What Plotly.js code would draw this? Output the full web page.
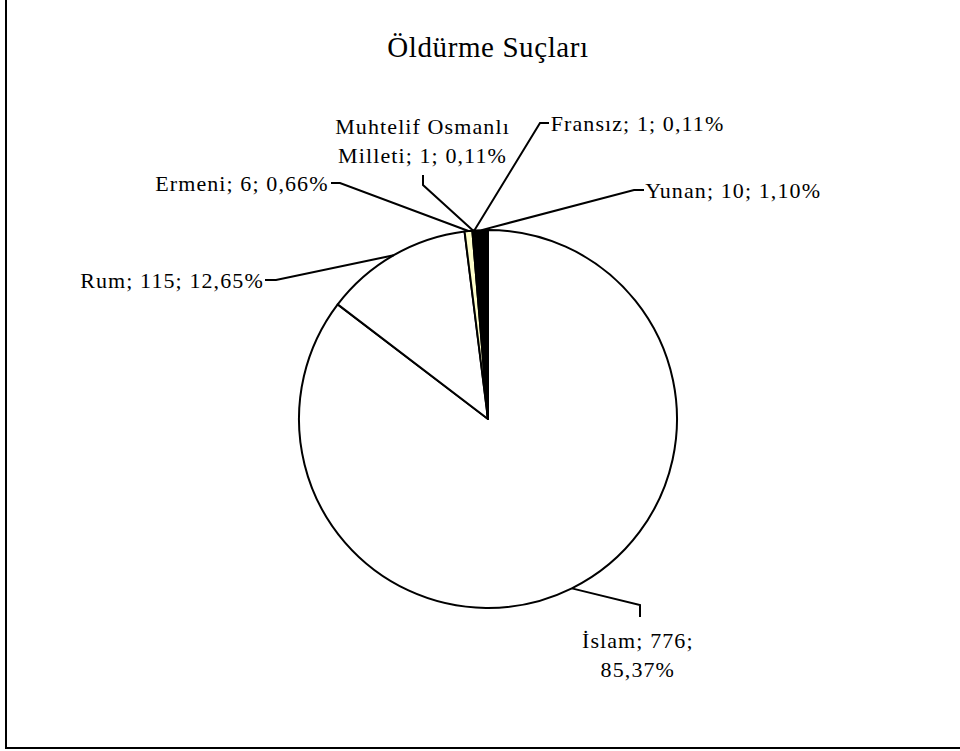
<!DOCTYPE html>
<html>
<head>
<meta charset="utf-8">
<script src="https://cdn.plot.ly/plotly-3.0.1.min.js"></script>
<style>
html,body{margin:0;padding:0;background:#fff;}
#chart{width:960px;height:751px;}
#chart .annotation-text{letter-spacing:1.1px;}
#chart .gtitle{letter-spacing:0.6px;}
</style>
</head>
<body>
<div id="chart"></div>
<script>
// ---- data ----
var labels = ["İslam", "Rum", "Ermeni", "Muhtelif Osmanlı Milleti", "Fransız", "Yunan"];
var values = [776, 115, 6, 1, 1, 10];
var sliceColors = ["#FFFFFF", "#FFFFFF", "#FFFFCC", "#FFFFFF", "#FFFFFF", "#000000"];
var chartTitle = "Öldürme Suçları";

// ---- layout helpers (pixels -> paper) ----
var W = 960, H = 751;
function px(x) { return x / W; }
function py(y) { return 1 - y / H; }
var cx = 488, cy = 419, R = 189;

var total = values.reduce(function (a, b) { return a + b; }, 0);
function fmtPct(v) { return (v / total * 100).toFixed(2).replace(".", ",") + "%"; }
function labelText(i) { return labels[i] + "; " + values[i] + "; " + fmtPct(values[i]); }

// anchor points on the pie edge at each slice's mid angle (clockwise from 12 o'clock)
var anchors = [];
var cum = 0;
for (var i = 0; i < values.length; i++) {
  var th = 2 * Math.PI * (cum + values[i] / 2) / total;
  anchors.push([cx + R * Math.sin(th), cy - R * Math.cos(th)]);
  cum += values[i];
}

// label placement: [text centre x, text centre y, elbow x, elbow y, stub end x, stub end y]
var place = [
  [638, 655, 640, 605, 640, 617],   // İslam
  [172, 280, 276, 280, 265, 280],   // Rum
  [242, 183, 340, 183, 331, 183],   // Ermeni
  [422, 141, 423, 185, 423, 175],   // Muhtelif
  [637, 123, 540, 123, 549, 123],   // Fransız
  [733, 190, 634, 190, 644, 190]    // Yunan
];
var texts = [
  "İslam; " + values[0] + ";<br>" + fmtPct(values[0]),
  labelText(1),
  labelText(2),
  "Muhtelif Osmanlı<br>Milleti; " + values[3] + "; " + fmtPct(values[3]),
  labelText(4),
  labelText(5)
];

var annotations = [];
var shapes = [];
for (var j = 0; j < place.length; j++) {
  var p = place[j];
  annotations.push({
    xref: "paper", yref: "paper", x: px(p[0]), y: py(p[1]),
    xanchor: "center", yanchor: "middle", showarrow: false, align: "center",
    text: texts[j], font: { family: "Liberation Serif, Times New Roman, serif", size: 22, color: "#000" }
  });
  shapes.push({
    type: "path", xref: "paper", yref: "paper",
    path: "M" + px(anchors[j][0]) + "," + py(anchors[j][1]) +
          " L" + px(p[2]) + "," + py(p[3]) +
          " L" + px(p[4]) + "," + py(p[5]),
    line: { color: "#000", width: 2 }
  });
}
// outer frame
shapes.push({
  type: "rect", xref: "paper", yref: "paper",
  x0: px(6), x1: px(968), y0: py(748), y1: py(-8),
  line: { color: "#000", width: 2 }, fillcolor: "rgba(0,0,0,0)"
});

var trace = {
  type: "pie",
  labels: labels,
  values: values,
  sort: false,
  direction: "clockwise",
  rotation: 0,
  textinfo: "none",
  hoverinfo: "label+value+percent",
  marker: { colors: sliceColors, line: { color: "#000", width: 2 } },
  domain: { x: [px(cx - R), px(cx + R)], y: [py(cy + R), py(cy - R)] },
  showlegend: false
};

var layout = {
  width: W, height: H,
  margin: { l: 0, r: 0, t: 0, b: 0 },
  paper_bgcolor: "#fff",
  plot_bgcolor: "#fff",
  showlegend: false,
  title: {
    text: chartTitle, x: px(488), y: py(47), xanchor: "center", yanchor: "middle",
    font: { family: "Liberation Serif, Times New Roman, serif", size: 29, color: "#000" }
  },
  annotations: annotations,
  shapes: shapes
};

Plotly.newPlot("chart", [trace], layout, { staticPlot: true, displayModeBar: false });
</script>
</body>
</html>
